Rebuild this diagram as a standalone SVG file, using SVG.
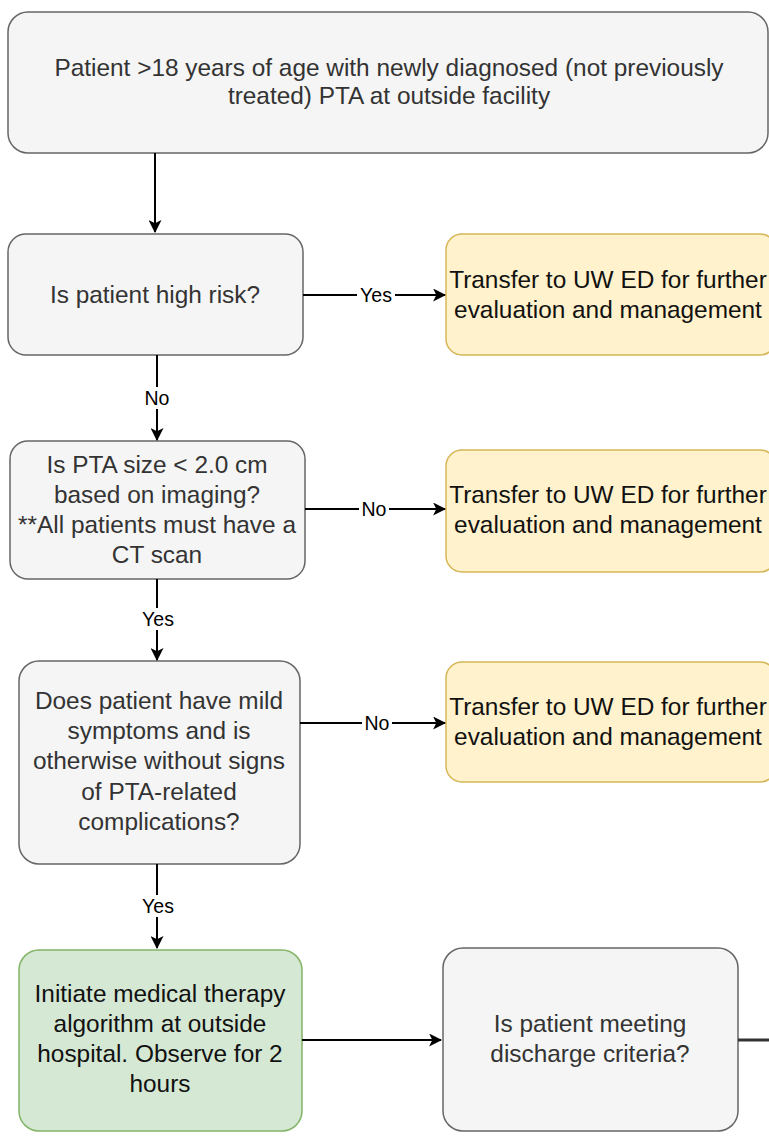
<svg xmlns="http://www.w3.org/2000/svg" width="769" height="1139" viewBox="0 0 769 1139">
<style>
  .gray{fill:#f5f5f5;stroke:#666666;stroke-width:1.5}
  .yellow{fill:#fff2cc;stroke:#d6b656;stroke-width:1.5}
  .green{fill:#d5e8d4;stroke:#82b366;stroke-width:1.5}
  text{font-family:"Liberation Sans",Arial,sans-serif;font-size:24.4px;text-anchor:middle}
  .tg{fill:#333333}
  .tb{fill:#111111}
  .edge{stroke:#000;stroke-width:2;fill:none}
  .lbl{font-size:19.5px;fill:#000}
  .lblbg{fill:#ffffff}
</style>
<defs>
  <marker id="arr" viewBox="0 0 12 12" refX="11" refY="6" markerWidth="13" markerHeight="13" markerUnits="userSpaceOnUse" orient="auto">
    <path d="M0,0 L12,6 L0,12 L3,6 z" fill="#000"/>
  </marker>
</defs>
<rect width="769" height="1139" fill="#ffffff"/>
<g id="start">
  <rect class="gray" x="8" y="12" width="760" height="141" rx="20"/>
  <text class="tg" x="389" y="76">Patient &gt;18 years of age with newly diagnosed (not previously</text>
  <text class="tg" x="389" y="104">treated) PTA at outside facility</text>
</g>
<g id="highrisk">
  <rect class="gray" x="8" y="234" width="295" height="121" rx="18"/>
  <text class="tg" x="155" y="303">Is patient high risk?</text>
</g>
<g id="transfer1">
  <rect class="yellow" x="446" y="234" width="330" height="121" rx="16"/>
  <text class="tb" x="608" y="288">Transfer to UW ED for further</text>
  <text class="tb" x="608" y="318">evaluation and management</text>
</g>
<g id="size">
  <rect class="gray" x="10" y="441" width="295" height="138" rx="18"/>
  <text class="tg" x="157" y="473">Is PTA size &lt; 2.0 cm</text>
  <text class="tg" x="157" y="503">based on imaging?</text>
  <text class="tg" x="157" y="533">**All patients must have a</text>
  <text class="tg" x="157" y="563">CT scan</text>
</g>
<g id="transfer2">
  <rect class="yellow" x="446" y="450" width="330" height="122" rx="16"/>
  <text class="tb" x="608" y="503">Transfer to UW ED for further</text>
  <text class="tb" x="608" y="533">evaluation and management</text>
</g>
<g id="symptoms">
  <rect class="gray" x="19" y="661" width="281" height="203" rx="20"/>
  <text class="tg" x="159" y="709">Does patient have mild</text>
  <text class="tg" x="159" y="739">symptoms and is</text>
  <text class="tg" x="159" y="769">otherwise without signs</text>
  <text class="tg" x="159" y="800">of PTA-related</text>
  <text class="tg" x="159" y="830">complications?</text>
</g>
<g id="transfer3">
  <rect class="yellow" x="446" y="662" width="330" height="120" rx="16"/>
  <text class="tb" x="608" y="715">Transfer to UW ED for further</text>
  <text class="tb" x="608" y="745">evaluation and management</text>
</g>
<g id="therapy">
  <rect class="green" x="19" y="950" width="283" height="181" rx="20"/>
  <text class="tb" x="160" y="1002">Initiate medical therapy</text>
  <text class="tb" x="160" y="1032">algorithm at outside</text>
  <text class="tb" x="160" y="1062">hospital. Observe for 2</text>
  <text class="tb" x="160" y="1092">hours</text>
</g>
<g id="discharge">
  <rect class="gray" x="443" y="948" width="295" height="183" rx="20"/>
  <text class="tg" x="590" y="1032">Is patient meeting</text>
  <text class="tg" x="590" y="1062">discharge criteria?</text>
</g>
<g id="connectors">
  <path class="edge" d="M155,153 L155,232" stroke="#333" marker-end="url(#arr)"/>
  <path class="edge" d="M303,295 L445,295" marker-end="url(#arr)"/>
  <rect class="lblbg" x="357" y="284" width="38" height="22"/>
  <text class="lbl" x="376" y="302">Yes</text>
  <path class="edge" d="M157,355 L157,440" marker-end="url(#arr)"/>
  <rect class="lblbg" x="142" y="387" width="30" height="22"/>
  <text class="lbl" x="157" y="405">No</text>
  <path class="edge" d="M305,509 L445,509" marker-end="url(#arr)"/>
  <rect class="lblbg" x="359" y="498" width="30" height="22"/>
  <text class="lbl" x="374" y="516">No</text>
  <path class="edge" d="M157,579 L157,660" marker-end="url(#arr)"/>
  <rect class="lblbg" x="139" y="608" width="38" height="22"/>
  <text class="lbl" x="158" y="626">Yes</text>
  <path class="edge" d="M300,723 L445,723" marker-end="url(#arr)"/>
  <rect class="lblbg" x="362" y="712" width="30" height="22"/>
  <text class="lbl" x="377" y="730">No</text>
  <path class="edge" d="M157,864 L157,948" marker-end="url(#arr)"/>
  <rect class="lblbg" x="139" y="895" width="38" height="22"/>
  <text class="lbl" x="158" y="913">Yes</text>
  <path class="edge" d="M302,1040 L441,1040" marker-end="url(#arr)"/>
  <path d="M738,1040 L769,1040" stroke="#333" stroke-width="3" fill="none"/>
</g>
</svg>
